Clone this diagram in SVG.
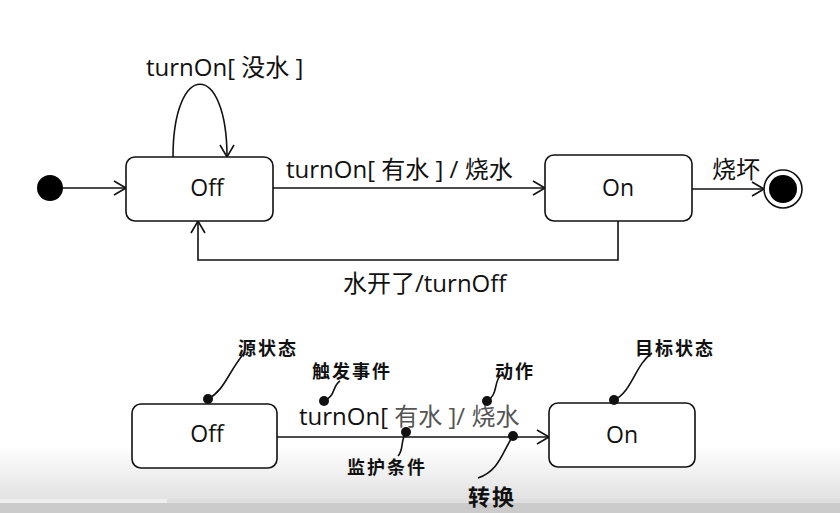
<svg xmlns="http://www.w3.org/2000/svg" width="840" height="513" viewBox="0 0 840 513">
<defs>
<marker id="open" markerUnits="userSpaceOnUse" markerWidth="20" markerHeight="20" refX="13" refY="8" orient="auto">
<path d="M1,1 L13,8 L1,15" fill="none" stroke="#111" stroke-width="1.6"/>
</marker>
<linearGradient id="fade" x1="0" y1="0" x2="0" y2="1">
<stop offset="0" stop-color="#ffffff"/>
<stop offset="1" stop-color="#e2e2e2"/>
</linearGradient>
</defs>
<style>
.box{fill:#fff;stroke:#111;stroke-width:1.6}
.ln{fill:none;stroke:#111;stroke-width:1.6}
.lbl{font-family:"Open Sans","Noto Sans CJK SC",sans-serif;font-size:24px;fill:#111}
.st{font-family:"Open Sans","Noto Sans CJK SC",sans-serif;font-size:23px;fill:#111;text-anchor:middle}
.ann{font-family:"Noto Sans CJK SC",sans-serif;font-size:18px;font-weight:bold;fill:#111;letter-spacing:2px}
.grey{fill:#555}
.dot{fill:#111}
</style>
<rect x="0" y="0" width="840" height="513" fill="#fff"/>
<rect x="0" y="445" width="840" height="54" fill="url(#fade)"/>
<rect x="0" y="499" width="167" height="4" fill="#efefef"/>
<rect x="167" y="499" width="673" height="4" fill="#dedede"/>
<rect x="0" y="503" width="840" height="10" fill="#cbcbcb"/>

<g id="connectors">
<line class="ln" x1="63" y1="188" x2="126" y2="188" marker-end="url(#open)"/>
<path class="ln" d="M173,157 C173,60 227,60 227,157" marker-end="url(#open)"/>
<line class="ln" x1="273" y1="188" x2="545" y2="188" marker-end="url(#open)"/>
<line class="ln" x1="692" y1="189" x2="764" y2="189" marker-end="url(#open)"/>
<polyline class="ln" points="618,221 618,260 198,260 198,221" marker-end="url(#open)"/>
<line class="ln" x1="277" y1="437" x2="549" y2="437" marker-end="url(#open)"/>
<path class="ln" d="M208,399 C225,390 228,372 245,352" stroke-width="1.3"/>
<path class="ln" d="M324,401 C336,396 332,386 340,381" stroke-width="1.3"/>
<path class="ln" d="M406,432 C400,442 404,450 398,456" stroke-width="1.3"/>
<path class="ln" d="M487,401 C498,395 494,382 500,376" stroke-width="1.3"/>
<path class="ln" d="M614,400 C632,392 635,365 652,353" stroke-width="1.3"/>
<path class="ln" d="M513,436 C502,452 500,470 478,478" stroke-width="1.3"/>
</g>

<g id="initial"><circle cx="50" cy="188" r="13" fill="#000"/></g>
<g id="off"><rect class="box" x="126" y="157" width="147" height="64" rx="9"/><text class="st" x="207" y="196">Off</text></g>
<g id="on"><rect class="box" x="545" y="155" width="147" height="66" rx="9"/><text class="st" x="618" y="196">On</text></g>
<g id="final"><circle cx="783" cy="189" r="19" fill="#fff" stroke="#111" stroke-width="1.6"/><circle cx="783" cy="189" r="14" fill="#000"/></g>

<g id="labels">
<text class="lbl" x="146" y="76">turnOn[ 没水 ]</text>
<text class="lbl" x="286" y="178">turnOn[ 有水 ] / 烧水</text>
<text class="lbl" x="712" y="178">烧坏</text>
<text class="lbl" x="343" y="292">水开了/turnOff</text>
</g>

<g id="off2"><rect class="box" x="132" y="404" width="145" height="64" rx="9"/><text class="st" x="207" y="442">Off</text></g>
<g id="on2"><rect class="box" x="549" y="403" width="146" height="64" rx="9"/><text class="st" x="622" y="443">On</text></g>

<g id="labels2">
<text class="lbl" x="299" y="425">turnOn[<tspan class="grey"> 有水 ]/ 烧水</tspan></text>
<circle class="dot" cx="208" cy="399" r="5"/>
<circle class="dot" cx="324" cy="401" r="5"/>
<circle class="dot" cx="406" cy="432" r="5"/>
<circle class="dot" cx="487" cy="401" r="5"/>
<circle class="dot" cx="614" cy="400" r="5"/>
<circle class="dot" cx="513" cy="436" r="5"/>
<text class="ann" x="238" y="355">源状态</text>
<text class="ann" x="312" y="378">触发事件</text>
<text class="ann" x="347" y="474">监护条件</text>
<text class="ann" x="495" y="378">动作</text>
<text class="ann" x="635" y="355">目标状态</text>
<text class="ann" x="468" y="505" style="font-size:22px">转换</text>
</g>
</svg>
